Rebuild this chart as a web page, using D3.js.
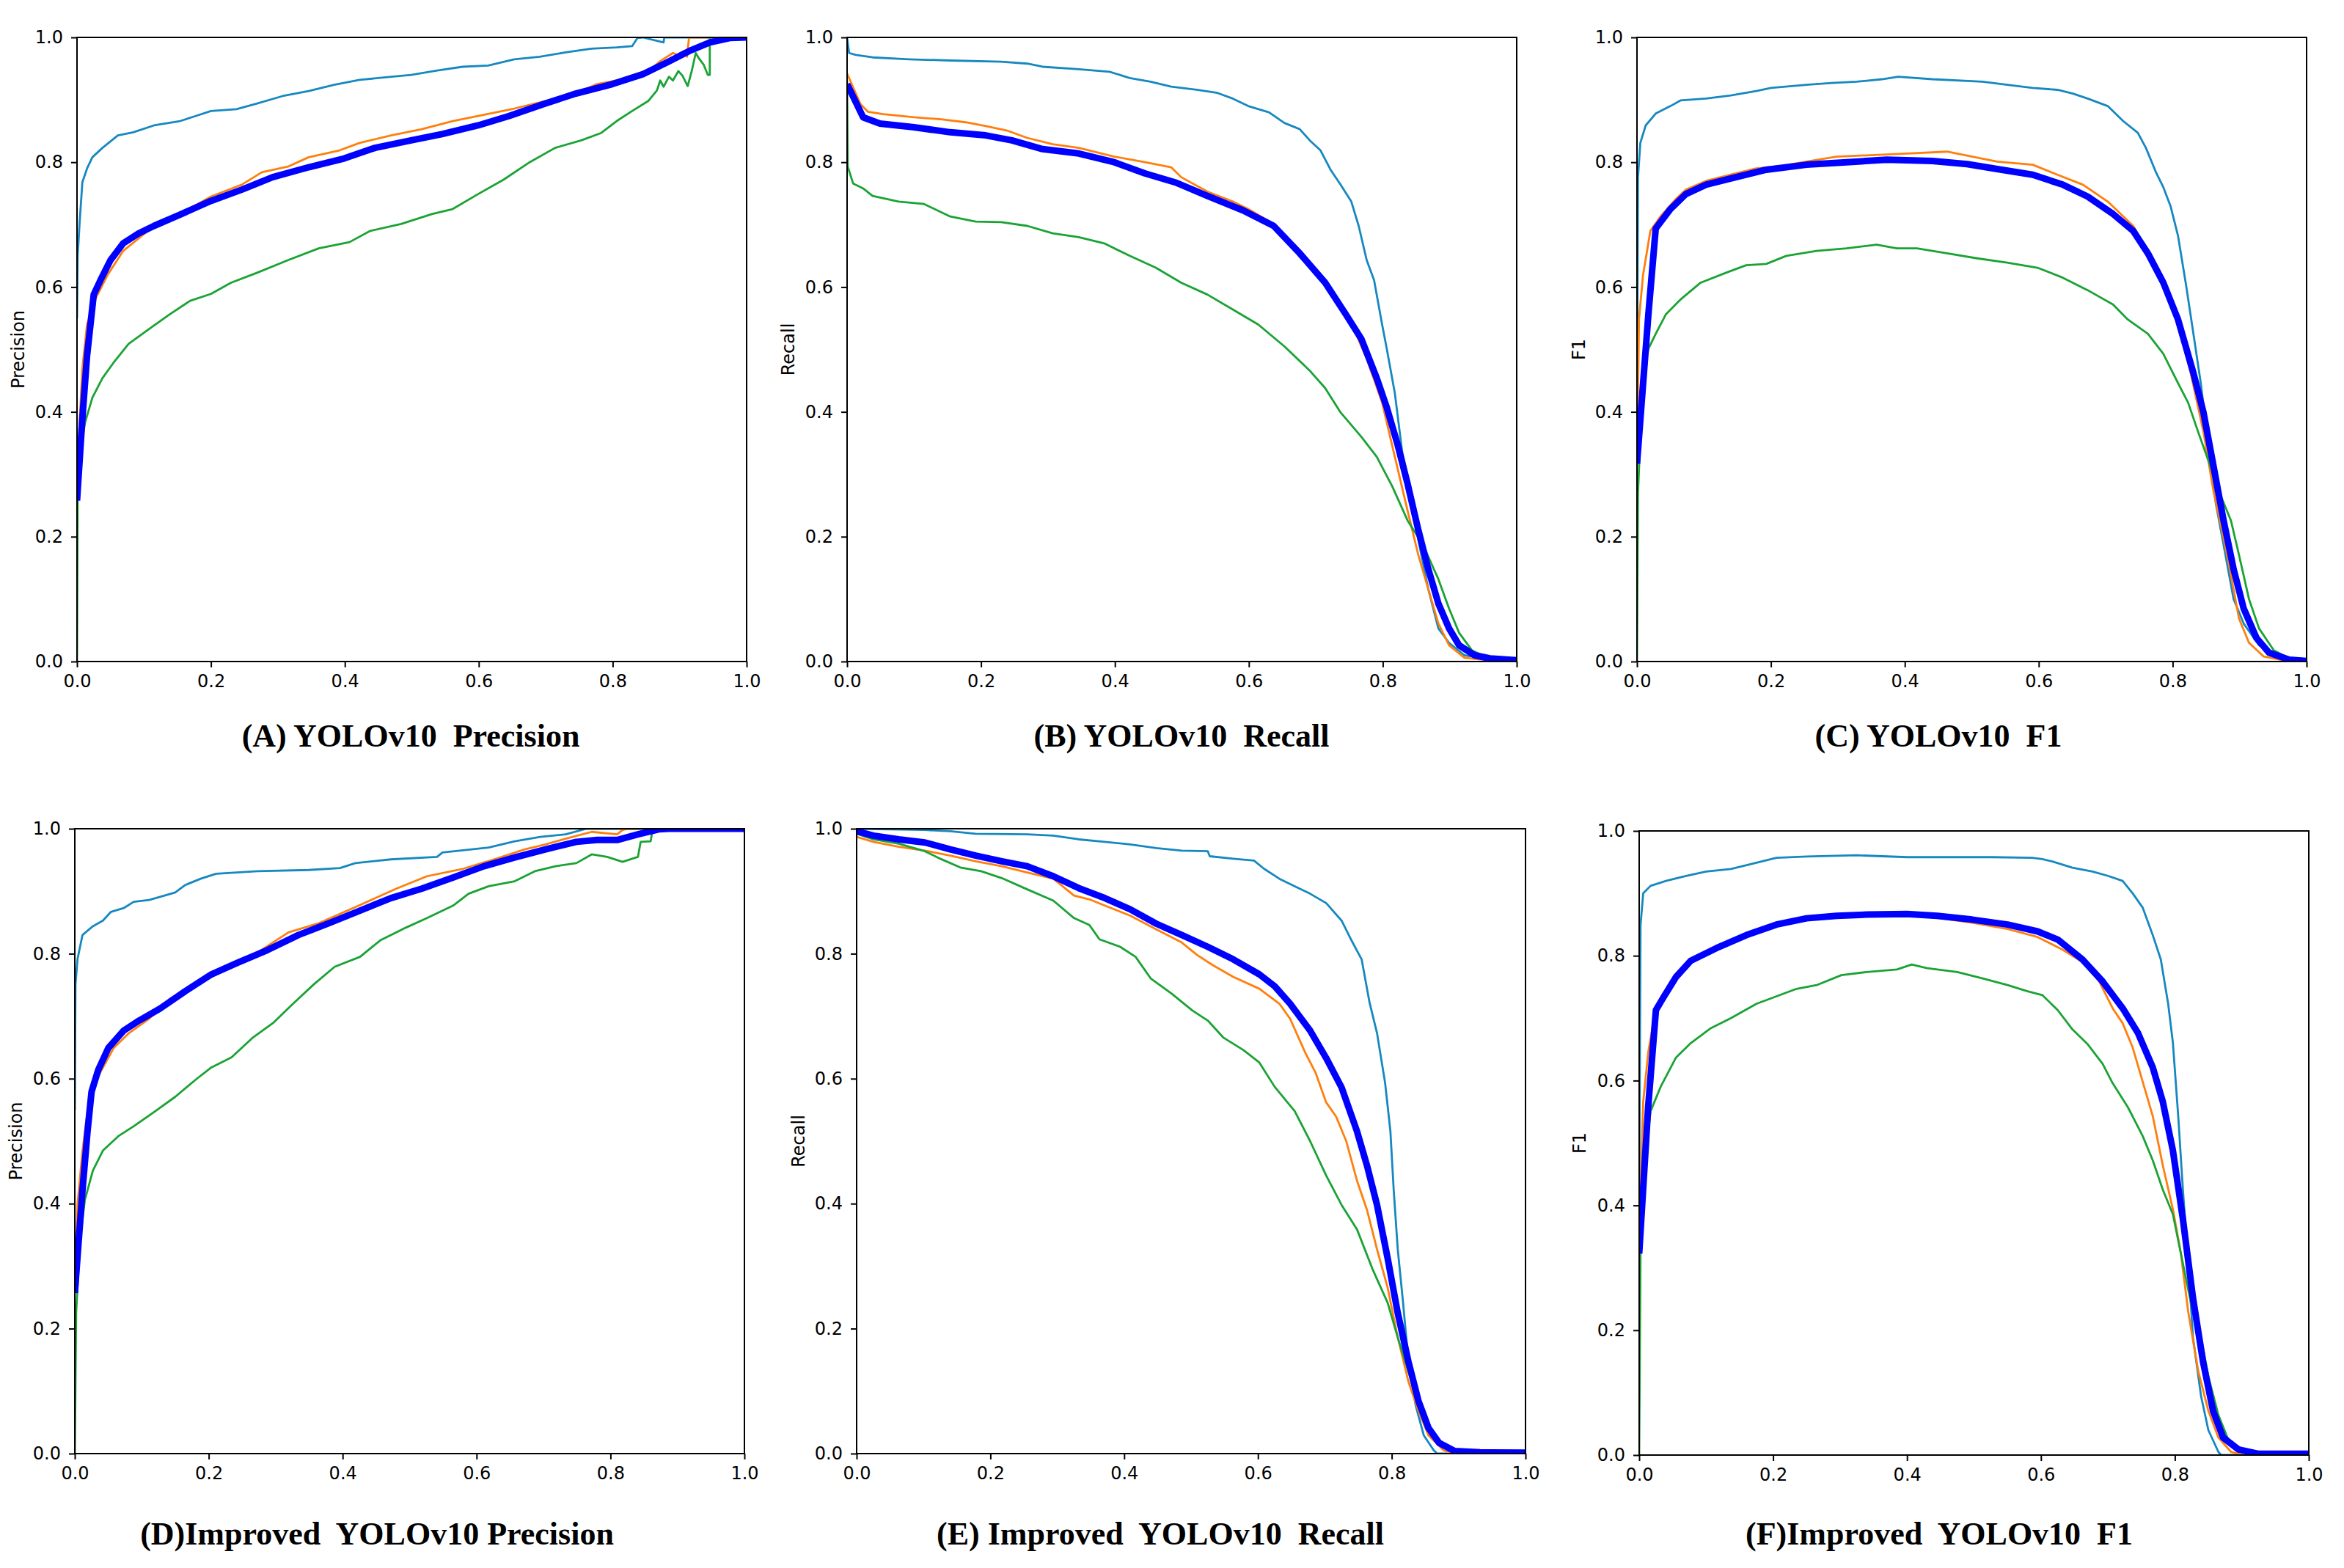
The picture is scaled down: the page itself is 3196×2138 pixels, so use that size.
<!DOCTYPE html>
<html>
<head>
<meta charset="utf-8">
<script src="https://cdn.jsdelivr.net/npm/d3@7"></script>
<style>
  body { margin: 0; background: #fff; }
  .tick text { font-family: "DejaVu Sans", sans-serif; font-size: 24px; fill: #000; }
  .tick line { stroke: #000; stroke-width: 2; }
</style>
</head>
<body>
<script>
// x axis = confidence, y axis = precision / recall / F1
const confTicks = [0, 0.2, 0.4, 0.6, 0.8, 1.0];
const valueTicks = [0, 0.2, 0.4, 0.6, 0.8, 1.0];

// (A) YOLOv10 precision
const precA_cls1 = [[0,0.55],[0.001,0.65],[0.004,0.705],[0.008,0.768],[0.015,0.79],[0.023,0.808],[0.038,0.823],[0.061,0.843],[0.084,0.848],[0.115,0.859],[0.154,0.866],[0.177,0.874],[0.2,0.882],[0.238,0.885],[0.269,0.894],[0.307,0.906],[0.346,0.914],[0.384,0.924],[0.422,0.932],[0.461,0.936],[0.499,0.94],[0.538,0.947],[0.576,0.953],[0.614,0.955],[0.653,0.965],[0.691,0.969],[0.73,0.976],[0.768,0.982],[0.806,0.984],[0.829,0.986],[0.837,0.999],[0.845,1.0],[0.876,0.992],[0.877,1.0],[1,1]];
const precA_cls2 = [[0,0.3],[0.008,0.47],[0.015,0.54],[0.027,0.58],[0.046,0.62],[0.069,0.658],[0.115,0.698],[0.154,0.717],[0.2,0.745],[0.246,0.764],[0.276,0.784],[0.315,0.793],[0.346,0.808],[0.392,0.819],[0.422,0.831],[0.469,0.843],[0.515,0.853],[0.561,0.866],[0.607,0.876],[0.653,0.886],[0.699,0.898],[0.745,0.91],[0.776,0.925],[0.806,0.931],[0.845,0.945],[0.858,0.95],[0.871,0.962],[0.89,0.975],[0.896,0.972],[0.906,0.978],[0.911,0.969],[0.914,1.0],[1,1]];
const precA_cls3 = [[0,0],[0.001,0.27],[0.004,0.33],[0.012,0.383],[0.023,0.423],[0.038,0.454],[0.054,0.478],[0.077,0.509],[0.108,0.533],[0.138,0.556],[0.169,0.578],[0.2,0.589],[0.23,0.607],[0.269,0.623],[0.315,0.643],[0.361,0.662],[0.407,0.672],[0.438,0.69],[0.484,0.701],[0.53,0.717],[0.561,0.725],[0.599,0.749],[0.637,0.772],[0.676,0.8],[0.714,0.823],[0.753,0.835],[0.783,0.847],[0.806,0.866],[0.829,0.882],[0.853,0.898],[0.866,0.915],[0.871,0.931],[0.876,0.921],[0.884,0.937],[0.89,0.931],[0.898,0.946],[0.904,0.939],[0.912,0.922],[0.918,0.946],[0.924,0.975],[0.929,0.966],[0.936,0.956],[0.942,0.94],[0.945,0.94],[0.945,1.0],[1,1]];
const precA_all = [[0,0.258],[0.008,0.39],[0.015,0.49],[0.025,0.588],[0.035,0.611],[0.05,0.643],[0.069,0.67],[0.092,0.686],[0.115,0.698],[0.154,0.716],[0.2,0.738],[0.246,0.756],[0.292,0.776],[0.346,0.792],[0.399,0.806],[0.445,0.823],[0.499,0.835],[0.545,0.845],[0.599,0.859],[0.645,0.874],[0.699,0.894],[0.745,0.91],[0.799,0.925],[0.845,0.941],[0.883,0.961],[0.914,0.978],[0.945,0.992],[0.975,0.999],[1,1]];

// (B) YOLOv10 recall
const recB_cls1 = [[0,1.0],[0.003,0.975],[0.013,0.972],[0.038,0.968],[0.092,0.965],[0.154,0.963],[0.23,0.961],[0.269,0.958],[0.292,0.953],[0.346,0.949],[0.392,0.945],[0.422,0.935],[0.453,0.929],[0.484,0.921],[0.522,0.916],[0.553,0.911],[0.576,0.902],[0.599,0.89],[0.63,0.88],[0.653,0.863],[0.676,0.853],[0.691,0.835],[0.707,0.819],[0.722,0.788],[0.737,0.764],[0.753,0.737],[0.764,0.698],[0.776,0.643],[0.787,0.611],[0.799,0.54],[0.806,0.501],[0.818,0.43],[0.829,0.336],[0.845,0.258],[0.853,0.195],[0.868,0.116],[0.883,0.053],[0.899,0.03],[0.922,0.01],[0.96,0.004],[1,0.001]];
const recB_cls2 = [[0,0.942],[0.02,0.893],[0.031,0.881],[0.054,0.877],[0.1,0.872],[0.138,0.869],[0.177,0.864],[0.207,0.858],[0.238,0.851],[0.269,0.839],[0.307,0.829],[0.346,0.823],[0.399,0.809],[0.445,0.8],[0.484,0.792],[0.499,0.776],[0.538,0.753],[0.576,0.737],[0.599,0.725],[0.637,0.701],[0.661,0.674],[0.684,0.646],[0.714,0.603],[0.737,0.572],[0.76,0.525],[0.776,0.485],[0.799,0.415],[0.818,0.328],[0.837,0.242],[0.853,0.171],[0.868,0.116],[0.883,0.061],[0.899,0.026],[0.922,0.006],[0.96,0.002],[1,0.001]];
const recB_cls3 = [[0,0.93],[0.001,0.793],[0.009,0.766],[0.024,0.758],[0.038,0.746],[0.077,0.737],[0.115,0.733],[0.154,0.713],[0.192,0.705],[0.23,0.704],[0.269,0.698],[0.307,0.686],[0.346,0.68],[0.384,0.67],[0.422,0.65],[0.461,0.631],[0.499,0.607],[0.538,0.588],[0.576,0.564],[0.614,0.54],[0.653,0.505],[0.691,0.466],[0.714,0.438],[0.737,0.399],[0.768,0.36],[0.791,0.328],[0.814,0.281],[0.837,0.226],[0.86,0.187],[0.883,0.132],[0.899,0.085],[0.914,0.046],[0.933,0.018],[0.949,0.01],[0.975,0.003],[1,0.001]];
const recB_all = [[0,0.925],[0.024,0.872],[0.049,0.862],[0.1,0.856],[0.154,0.848],[0.207,0.843],[0.246,0.835],[0.292,0.821],[0.346,0.814],[0.399,0.8],[0.445,0.782],[0.492,0.767],[0.538,0.746],[0.591,0.723],[0.637,0.698],[0.676,0.654],[0.714,0.607],[0.745,0.556],[0.768,0.517],[0.791,0.454],[0.806,0.407],[0.822,0.348],[0.837,0.285],[0.853,0.211],[0.868,0.148],[0.883,0.093],[0.899,0.053],[0.914,0.026],[0.937,0.01],[0.96,0.005],[1,0.002]];

// (C) YOLOv10 F1
const f1C_cls1 = [[0,0.35],[0.0015,0.776],[0.005,0.831],[0.013,0.859],[0.028,0.878],[0.05,0.89],[0.065,0.899],[0.103,0.902],[0.14,0.907],[0.178,0.914],[0.2,0.919],[0.253,0.924],[0.291,0.927],[0.328,0.929],[0.366,0.933],[0.39,0.937],[0.441,0.933],[0.516,0.929],[0.553,0.924],[0.591,0.919],[0.628,0.916],[0.651,0.91],[0.673,0.902],[0.703,0.89],[0.726,0.866],[0.748,0.847],[0.76,0.823],[0.775,0.784],[0.786,0.76],[0.797,0.729],[0.808,0.682],[0.82,0.603],[0.831,0.525],[0.842,0.446],[0.85,0.375],[0.857,0.305],[0.865,0.25],[0.876,0.187],[0.891,0.1],[0.906,0.061],[0.929,0.026],[0.959,0.006],[1,0.001]];
const f1C_cls2 = [[0,0.313],[0.003,0.548],[0.009,0.619],[0.02,0.69],[0.035,0.713],[0.058,0.741],[0.073,0.756],[0.103,0.77],[0.14,0.78],[0.178,0.79],[0.215,0.794],[0.253,0.801],[0.298,0.809],[0.343,0.811],[0.403,0.814],[0.463,0.817],[0.501,0.809],[0.538,0.801],[0.591,0.796],[0.628,0.78],[0.666,0.764],[0.703,0.737],[0.741,0.698],[0.763,0.658],[0.786,0.603],[0.808,0.54],[0.827,0.462],[0.846,0.368],[0.861,0.273],[0.872,0.218],[0.884,0.156],[0.899,0.069],[0.914,0.03],[0.936,0.008],[0.966,0.002],[1,0.001]];
const f1C_cls3 = [[0,0],[0.0015,0.27],[0.009,0.462],[0.017,0.501],[0.028,0.525],[0.043,0.556],[0.065,0.58],[0.095,0.607],[0.133,0.623],[0.163,0.635],[0.193,0.637],[0.223,0.65],[0.268,0.658],[0.313,0.662],[0.358,0.668],[0.388,0.662],[0.418,0.662],[0.463,0.654],[0.508,0.646],[0.553,0.639],[0.598,0.631],[0.636,0.615],[0.673,0.595],[0.711,0.572],[0.733,0.548],[0.763,0.525],[0.786,0.493],[0.808,0.446],[0.823,0.415],[0.838,0.368],[0.854,0.32],[0.869,0.273],[0.887,0.226],[0.899,0.171],[0.914,0.1],[0.929,0.053],[0.951,0.018],[0.974,0.005],[1,0.001]];
const f1C_all = [[0,0.317],[0.017,0.556],[0.028,0.694],[0.05,0.725],[0.073,0.749],[0.103,0.764],[0.14,0.774],[0.193,0.788],[0.253,0.796],[0.313,0.8],[0.373,0.804],[0.441,0.802],[0.493,0.797],[0.538,0.789],[0.591,0.78],[0.636,0.764],[0.673,0.745],[0.711,0.717],[0.741,0.69],[0.763,0.654],[0.786,0.607],[0.808,0.548],[0.831,0.462],[0.846,0.399],[0.861,0.313],[0.876,0.226],[0.891,0.148],[0.906,0.085],[0.925,0.038],[0.944,0.014],[0.974,0.003],[1,0.001]];

// (D) Improved YOLOv10 precision
const precD_cls1 = [[0,0.55],[0.001,0.751],[0.004,0.791],[0.0115,0.83],[0.027,0.844],[0.042,0.853],[0.054,0.867],[0.073,0.873],[0.088,0.883],[0.111,0.886],[0.134,0.893],[0.15,0.898],[0.165,0.91],[0.188,0.92],[0.211,0.928],[0.273,0.932],[0.349,0.934],[0.396,0.937],[0.419,0.945],[0.472,0.951],[0.541,0.955],[0.549,0.962],[0.618,0.97],[0.657,0.98],[0.695,0.987],[0.733,0.991],[0.764,1.0],[1,1]];
const precD_cls2 = [[0,0.26],[0.004,0.398],[0.0115,0.485],[0.023,0.579],[0.038,0.61],[0.058,0.649],[0.081,0.673],[0.111,0.696],[0.142,0.728],[0.173,0.744],[0.211,0.767],[0.257,0.791],[0.319,0.834],[0.365,0.849],[0.426,0.878],[0.48,0.904],[0.526,0.924],[0.58,0.936],[0.626,0.951],[0.672,0.967],[0.703,0.975],[0.733,0.984],[0.772,0.995],[0.81,0.991],[0.818,0.998],[0.827,1.0],[1,1]];
const precD_cls3 = [[0,0],[0.002,0.226],[0.008,0.344],[0.015,0.406],[0.027,0.453],[0.042,0.485],[0.065,0.508],[0.088,0.524],[0.119,0.547],[0.15,0.571],[0.18,0.598],[0.204,0.618],[0.234,0.634],[0.265,0.665],[0.296,0.689],[0.326,0.72],[0.357,0.751],[0.388,0.779],[0.426,0.795],[0.457,0.822],[0.495,0.842],[0.526,0.857],[0.565,0.877],[0.588,0.896],[0.618,0.908],[0.657,0.916],[0.687,0.932],[0.718,0.94],[0.749,0.945],[0.772,0.959],[0.795,0.955],[0.818,0.947],[0.841,0.955],[0.845,0.979],[0.86,0.98],[0.863,1.0],[1,1]];
const precD_all = [[0,0.257],[0.0115,0.422],[0.019,0.516],[0.025,0.579],[0.035,0.614],[0.05,0.649],[0.073,0.677],[0.096,0.693],[0.127,0.712],[0.165,0.74],[0.204,0.767],[0.242,0.785],[0.288,0.806],[0.334,0.83],[0.38,0.849],[0.426,0.869],[0.472,0.889],[0.518,0.904],[0.565,0.922],[0.611,0.94],[0.657,0.954],[0.703,0.967],[0.749,0.979],[0.78,0.982],[0.81,0.982],[0.841,0.991],[0.872,0.999],[0.887,1.0],[1,1]];

// (E) Improved YOLOv10 recall
const recE_cls1 = [[0,1.0],[0.102,0.998],[0.14,0.996],[0.178,0.992],[0.255,0.991],[0.294,0.989],[0.332,0.983],[0.371,0.979],[0.409,0.975],[0.448,0.969],[0.486,0.965],[0.525,0.964],[0.528,0.956],[0.563,0.952],[0.594,0.949],[0.609,0.936],[0.632,0.92],[0.655,0.908],[0.678,0.896],[0.702,0.881],[0.725,0.853],[0.74,0.821],[0.755,0.791],[0.767,0.721],[0.778,0.673],[0.79,0.594],[0.798,0.516],[0.803,0.421],[0.809,0.327],[0.817,0.241],[0.825,0.147],[0.836,0.076],[0.848,0.029],[0.863,0.005],[0.868,0],[1,0]];
const recE_cls2 = [[0,0.987],[0.025,0.979],[0.063,0.971],[0.102,0.965],[0.14,0.957],[0.178,0.948],[0.217,0.94],[0.255,0.93],[0.294,0.92],[0.325,0.893],[0.348,0.887],[0.371,0.877],[0.409,0.861],[0.448,0.839],[0.486,0.818],[0.509,0.798],[0.532,0.782],[0.563,0.763],[0.602,0.744],[0.632,0.72],[0.648,0.696],[0.671,0.641],[0.686,0.61],[0.702,0.562],[0.717,0.539],[0.732,0.5],[0.748,0.437],[0.763,0.39],[0.778,0.327],[0.794,0.265],[0.809,0.186],[0.825,0.115],[0.84,0.068],[0.855,0.029],[0.878,0.005],[0.894,0],[1,0]];
const recE_cls3 = [[0,0.992],[0.025,0.983],[0.063,0.976],[0.102,0.964],[0.125,0.952],[0.155,0.938],[0.186,0.932],[0.217,0.921],[0.255,0.903],[0.294,0.885],[0.325,0.857],[0.348,0.846],[0.363,0.823],[0.394,0.811],[0.417,0.795],[0.44,0.76],[0.471,0.736],[0.502,0.709],[0.525,0.693],[0.548,0.666],[0.578,0.646],[0.602,0.626],[0.625,0.587],[0.655,0.548],[0.678,0.5],[0.702,0.445],[0.725,0.398],[0.748,0.359],[0.771,0.296],[0.794,0.241],[0.809,0.186],[0.825,0.131],[0.84,0.084],[0.855,0.045],[0.871,0.021],[0.894,0.005],[0.932,0.001],[1,0]];
const recE_all = [[0,0.996],[0.025,0.989],[0.063,0.983],[0.102,0.978],[0.14,0.967],[0.178,0.957],[0.217,0.948],[0.255,0.94],[0.294,0.924],[0.332,0.905],[0.371,0.889],[0.409,0.871],[0.448,0.848],[0.486,0.83],[0.525,0.811],[0.563,0.791],[0.602,0.767],[0.625,0.748],[0.648,0.72],[0.678,0.677],[0.702,0.633],[0.725,0.586],[0.748,0.516],[0.763,0.461],[0.778,0.398],[0.794,0.312],[0.809,0.225],[0.825,0.147],[0.84,0.084],[0.855,0.041],[0.871,0.017],[0.894,0.004],[0.932,0.002],[1,0.0015]];

// (F) Improved YOLOv10 F1
const f1F_cls1 = [[0,0.4],[0.002,0.849],[0.006,0.9],[0.017,0.912],[0.04,0.92],[0.07,0.928],[0.1,0.935],[0.137,0.939],[0.175,0.949],[0.205,0.957],[0.25,0.959],[0.325,0.961],[0.4,0.958],[0.475,0.958],[0.527,0.958],[0.587,0.957],[0.602,0.955],[0.617,0.951],[0.647,0.941],[0.677,0.935],[0.7,0.928],[0.722,0.92],[0.737,0.9],[0.752,0.877],[0.767,0.833],[0.779,0.794],[0.79,0.723],[0.797,0.661],[0.805,0.543],[0.812,0.425],[0.82,0.307],[0.827,0.189],[0.839,0.095],[0.85,0.04],[0.865,0.005],[0.869,0],[1,0]];
const f1F_cls2 = [[0,0.346],[0.006,0.566],[0.0135,0.645],[0.021,0.692],[0.036,0.739],[0.055,0.763],[0.077,0.79],[0.115,0.809],[0.16,0.833],[0.197,0.848],[0.25,0.857],[0.295,0.863],[0.34,0.865],[0.4,0.865],[0.445,0.861],[0.497,0.853],[0.55,0.843],[0.595,0.83],[0.632,0.81],[0.662,0.79],[0.685,0.763],[0.707,0.716],[0.722,0.692],[0.737,0.653],[0.752,0.598],[0.767,0.543],[0.782,0.464],[0.797,0.394],[0.809,0.323],[0.82,0.229],[0.835,0.134],[0.85,0.071],[0.865,0.028],[0.884,0.005],[0.902,0],[1,0]];
const f1F_cls3 = [[0,0],[0.002,0.33],[0.01,0.488],[0.017,0.551],[0.032,0.59],[0.055,0.637],[0.077,0.66],[0.107,0.684],[0.137,0.7],[0.175,0.723],[0.205,0.735],[0.235,0.747],[0.265,0.753],[0.302,0.769],[0.34,0.774],[0.385,0.778],[0.407,0.786],[0.43,0.78],[0.475,0.774],[0.512,0.764],[0.55,0.753],[0.58,0.743],[0.602,0.737],[0.625,0.713],[0.647,0.682],[0.67,0.658],[0.692,0.627],[0.707,0.596],[0.73,0.557],[0.752,0.511],[0.767,0.472],[0.782,0.425],[0.797,0.386],[0.812,0.307],[0.824,0.244],[0.839,0.189],[0.85,0.126],[0.865,0.064],[0.88,0.024],[0.895,0.009],[0.925,0.001],[1,0]];
const f1F_all = [[0,0.323],[0.0135,0.559],[0.025,0.713],[0.036,0.733],[0.055,0.766],[0.077,0.792],[0.115,0.812],[0.16,0.833],[0.205,0.85],[0.25,0.86],[0.295,0.864],[0.34,0.866],[0.4,0.867],[0.445,0.864],[0.497,0.858],[0.55,0.85],[0.595,0.839],[0.625,0.826],[0.662,0.794],[0.692,0.759],[0.722,0.716],[0.745,0.676],[0.767,0.621],[0.782,0.566],[0.797,0.488],[0.812,0.378],[0.827,0.252],[0.842,0.15],[0.857,0.071],[0.872,0.028],[0.895,0.009],[0.925,0.002],[1,0.002]];

const titles = ["(A) YOLOv10  Precision", "(B) YOLOv10  Recall", "(C) YOLOv10  F1",
                "(D)Improved  YOLOv10 Precision", "(E) Improved  YOLOv10  Recall", "(F)Improved  YOLOv10  F1"];
const yLabels = ["Precision", "Recall", "F1", "Precision", "Recall", "F1"];
const panelSeries = [
  [precA_cls1, precA_cls2, precA_cls3, precA_all],
  [recB_cls1, recB_cls2, recB_cls3, recB_all],
  [f1C_cls1, f1C_cls2, f1C_cls3, f1C_all],
  [precD_cls1, precD_cls2, precD_cls3, precD_all],
  [recE_cls1, recE_cls2, recE_cls3, recE_all],
  [f1F_cls1, f1F_cls2, f1F_cls3, f1F_all]
];

// styles: thin class curves, thick "all classes" curve drawn last
const lineColors = ["#1688c0", "#ff7f0e", "#1aa334", "#0000ff"];
const lineWidths = [2.8, 2.8, 2.8, 9];

// axes boxes
const boxes = [
  {left: 105,  right: 1018, top: 51,   bottom: 902,  titleX: 560,  titleY: 1018, labX: 33},
  {left: 1155, right: 2068, top: 51,   bottom: 902,  titleX: 1611, titleY: 1018, labX: 1083},
  {left: 2232, right: 3145, top: 51,   bottom: 902,  titleX: 2643, titleY: 1018, labX: 2161},
  {left: 102,  right: 1015, top: 1130, bottom: 1982, titleX: 514,  titleY: 2106, labX: 30},
  {left: 1168, right: 2080, top: 1130, bottom: 1982, titleX: 1582, titleY: 2106, labX: 1097},
  {left: 2235, right: 3148, top: 1133, bottom: 1984, titleX: 2644, titleY: 2106, labX: 2162}
];

const W = 3196, H = 2138;
const svg = d3.select("body").append("svg")
    .attr("width", W)
    .attr("height", H)
    .style("display", "block")
    .style("background", "#fff");

boxes.forEach((b, i) => {
    const x = d3.scaleLinear().domain([0, 1]).range([b.left, b.right]);
    const y = d3.scaleLinear().domain([0, 1]).range([b.bottom, b.top]);
    const g = svg.append("g");

    g.append("clipPath").attr("id", "clip" + i)
        .append("rect")
        .attr("x", b.left).attr("y", b.top)
        .attr("width", b.right - b.left).attr("height", b.bottom - b.top);

    const line = d3.line().x(d => x(d[0])).y(d => y(d[1]));

    g.append("g").attr("clip-path", "url(#clip" + i + ")")
        .selectAll("path")
        .data(panelSeries[i])
        .enter()
        .append("path")
        .attr("d", line)
        .attr("fill", "none")
        .attr("stroke", (d, k) => lineColors[k])
        .attr("stroke-width", (d, k) => lineWidths[k])
        .attr("stroke-linejoin", "round")
        .attr("stroke-linecap", "butt");

    const xAxis = g.append("g")
        .attr("transform", "translate(0," + b.bottom + ")")
        .call(d3.axisBottom(x).tickValues(confTicks).tickSize(8).tickPadding(10).tickFormat(d3.format(".1f")));
    xAxis.select(".domain").remove();

    const yAxis = g.append("g")
        .attr("transform", "translate(" + b.left + ",0)")
        .call(d3.axisLeft(y).tickValues(valueTicks).tickSize(8).tickPadding(11).tickFormat(d3.format(".1f")));
    yAxis.select(".domain").remove();

    // frame (all four spines)
    g.append("rect")
        .attr("x", b.left).attr("y", b.top)
        .attr("width", b.right - b.left).attr("height", b.bottom - b.top)
        .attr("fill", "none")
        .attr("stroke", "#000")
        .attr("stroke-width", 2);

    g.append("text")
        .attr("transform", "translate(" + b.labX + "," + (b.top + b.bottom) / 2 + ") rotate(-90)")
        .attr("text-anchor", "middle")
        .style("font-family", "'DejaVu Sans', sans-serif")
        .style("font-size", "24px")
        .text(yLabels[i]);

    g.append("text")
        .attr("x", b.titleX)
        .attr("y", b.titleY)
        .attr("text-anchor", "middle")
        .style("white-space", "pre")
        .style("font-family", "'Liberation Serif', 'Times New Roman', serif")
        .style("font-weight", "bold")
        .style("font-size", "44px")
        .text(titles[i]);
});
</script>
</body>
</html>
